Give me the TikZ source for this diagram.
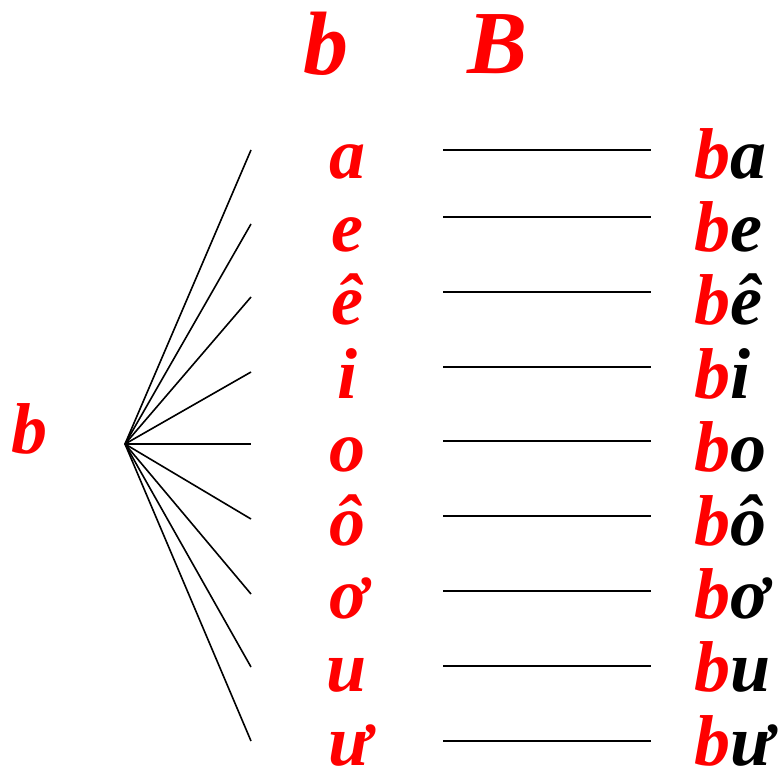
\documentclass[tikz,border=0pt]{standalone}
\usepackage{fontspec}
\setmainfont{Liberation Serif}
\begin{document}
\begin{tikzpicture}[x=1pt,y=-1pt,
  txt/.style={inner sep=0pt,font=\fontsize{72}{72}\selectfont\bfseries\itshape},
  head/.style={inner sep=0pt,font=\fontsize{90}{90}\selectfont\bfseries\itshape,text=red},
  conn/.style={line width=1.6pt,black}]
\useasboundingbox (0,0) rectangle (783,773);
% headers
\node[head,anchor=base] (hb) at (326,75) {b};
\node[head,anchor=base] (hB) at (498,74) {B};
% left b
\node[txt,anchor=base,text=red] (lb) at (29,453) {b};
\coordinate (o) at (125,444);
% fan ends
\foreach \i/\y in {1/150,2/224,3/297,4/372,5/444,6/519,7/594,8/667,9/741}{
  \coordinate (f\i) at (251,\y);
  \draw[conn] (o) -- (f\i);
}
% horizontal lines
\foreach \i/\y in {1/150,2/217,3/292,4/367,5/441,6/516,7/591,8/666,9/741}{
  \coordinate (hl\i) at (443,\y);
  \coordinate (hr\i) at (651,\y);
  \draw[conn] (hl\i) -- (hr\i);
}
% vowels and syllables
\foreach \i/\v/\xo in {0/a/0,1/e/0,2/ê/0,3/i/0,4/o/0,5/ô/0,6/ơ/2,7/u/0,8/ư/3}{
  \node[txt,anchor=base,text=red] (v\i) at (347+\xo,178+73.4*\i) {\v};
  \node[txt,anchor=base west] (s\i) at (694,178+73.4*\i) {\textcolor{red}{b}\v};
}
\end{tikzpicture}
\end{document}
